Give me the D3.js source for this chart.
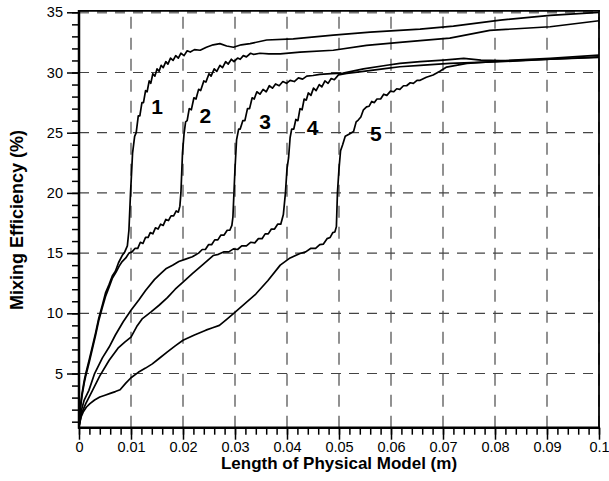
<!DOCTYPE html>
<html>
<head>
<meta charset="utf-8">
<script src="https://cdn.jsdelivr.net/npm/d3@7"></script>
<style>
  html, body { margin: 0; padding: 0; background: #fff; }
  svg { display: block; }
  text { font-family: "Liberation Sans", Arial, sans-serif; }
</style>
</head>
<body>
<svg id="chart" width="609" height="481"></svg>
<script>
// ---------- data ----------
const xTicks = [0, 0.01, 0.02, 0.03, 0.04, 0.05, 0.06, 0.07, 0.08, 0.09, 0.1];
const xTickLabels = ["0", "0.01", "0.02", "0.03", "0.04", "0.05", "0.06", "0.07", "0.08", "0.09", "0.1"];
const yTicks = [5, 10, 15, 20, 25, 30, 35];
const yTickLabels = ["5", "10", "15", "20", "25", "30", "35"];
const seriesNames = ["1", "2", "3", "4", "5"];
const labelX = [0.015, 0.0243, 0.0358, 0.0449, 0.0571];
const labelY = [27.2, 26.45, 25.9, 25.4, 24.95];

const curve1 = [
[0,0.7],[0.0003,2.4],[0.0006,3.4],[0.001,4.4],[0.0013,5.0],[0.002,6.2],[0.0026,7.3],[0.0032,8.4],[0.0038,9.6],[0.0045,10.7],[0.0051,11.7],[0.0058,12.4],[0.0064,13.1],[0.007,13.5],[0.0076,14.2],[0.0083,14.8],[0.0088,15.1],[0.0093,15.6],[0.0096,16.9],[0.0099,19.9],[0.0103,23.3],[0.0107,24.7],[0.011,25.0],[0.0114,26.4],[0.0117,26.4],[0.0121,27.5],[0.0124,27.5],[0.0128,28.5],[0.0131,28.4],[0.0135,29.3],[0.0138,29.1],[0.0142,29.9],[0.0146,29.7],[0.015,30.3],[0.0154,30.1],[0.0158,30.6],[0.0162,30.4],[0.0167,30.9],[0.0171,30.7],[0.0176,31.2],[0.0181,31.0],[0.0186,31.4],[0.0191,31.2],[0.0196,31.6],[0.0202,31.4],[0.0208,31.8],[0.0214,31.7],[0.0222,31.9],[0.0233,31.85],[0.0245,32.1],[0.0258,32.3],[0.0271,32.4],[0.0284,32.2],[0.0297,32.1],[0.0312,32.3],[0.0329,32.4],[0.0361,32.7],[0.0412,32.8],[0.0489,33.1],[0.056,33.35],[0.0656,33.6],[0.072,33.85],[0.081,34.35],[0.0906,34.75],[0.1,35.0]
];
const curve2 = [
[0,0.7],[0.0003,2.2],[0.0006,3.2],[0.001,4.2],[0.0013,4.8],[0.002,6.0],[0.0026,7.1],[0.0032,8.2],[0.0038,9.4],[0.0045,10.5],[0.0051,11.4],[0.0058,12.2],[0.0064,12.9],[0.0071,13.4],[0.0077,13.9],[0.0083,14.3],[0.009,14.6],[0.0096,15.0],[0.0102,15.1],[0.0108,15.4],[0.0113,15.4],[0.0118,15.9],[0.0123,15.8],[0.0128,16.3],[0.0133,16.3],[0.0137,16.7],[0.0142,16.6],[0.0147,17.1],[0.0152,17.0],[0.0157,17.4],[0.0162,17.3],[0.0167,17.8],[0.0172,17.7],[0.0177,18.1],[0.0182,18.1],[0.0187,18.5],[0.0191,18.4],[0.0194,18.9],[0.0196,20.0],[0.0199,23.3],[0.0202,24.9],[0.0205,25.9],[0.0208,26.0],[0.0212,27.0],[0.0216,26.9],[0.0221,27.9],[0.0225,27.8],[0.023,28.6],[0.0234,28.5],[0.024,29.3],[0.0244,29.2],[0.025,29.9],[0.0254,29.7],[0.026,30.3],[0.0265,30.1],[0.0271,30.6],[0.0276,30.4],[0.0282,30.9],[0.0287,30.7],[0.0293,31.1],[0.0298,30.9],[0.0305,31.2],[0.031,31.1],[0.0316,31.4],[0.0322,31.3],[0.033,31.6],[0.0336,31.5],[0.0348,31.6],[0.0365,31.55],[0.0387,31.55],[0.0425,31.7],[0.0489,31.85],[0.0553,32.25],[0.0617,32.5],[0.0656,32.65],[0.0713,32.85],[0.079,33.5],[0.0906,33.8],[0.1,34.3]
];
const curve3 = [
[0,0.6],[0.0005,2.0],[0.001,2.8],[0.0019,3.6],[0.003,5.0],[0.0045,6.3],[0.0058,7.2],[0.007,8.2],[0.0085,9.3],[0.01,10.25],[0.0115,11.1],[0.0128,11.9],[0.0145,12.8],[0.0157,13.3],[0.0167,13.7],[0.018,14.0],[0.0192,14.3],[0.0205,14.5],[0.0218,14.7],[0.023,15.0],[0.0237,15.3],[0.0243,15.3],[0.0249,15.7],[0.0255,15.7],[0.0261,16.1],[0.0267,16.1],[0.0273,16.5],[0.0279,16.5],[0.0285,16.9],[0.029,16.9],[0.0294,17.3],[0.0296,18.0],[0.0298,20.0],[0.03,22.0],[0.0303,24.4],[0.0307,25.3],[0.031,25.3],[0.0315,26.0],[0.0319,26.0],[0.0324,27.0],[0.0328,27.0],[0.0333,27.9],[0.0337,27.8],[0.0342,28.4],[0.0348,28.2],[0.0354,28.6],[0.036,28.4],[0.0366,28.9],[0.0372,28.7],[0.0378,29.05],[0.0385,28.9],[0.0392,29.25],[0.0399,29.1],[0.0406,29.35],[0.0414,29.25],[0.0422,29.55],[0.043,29.45],[0.0438,29.7],[0.045,29.75],[0.0463,29.85],[0.0485,29.9],[0.0508,29.95],[0.0547,30.3],[0.0592,30.6],[0.0617,30.76],[0.0656,30.9],[0.0701,31.03],[0.074,31.18],[0.0773,31.03],[0.081,30.98],[0.0906,31.18],[0.1,31.45]
];
const curve4 = [
[0,0.6],[0.0005,1.7],[0.0013,2.5],[0.0026,3.6],[0.004,4.8],[0.0058,6.1],[0.0075,7.1],[0.0088,7.6],[0.01,8.03],[0.0111,8.9],[0.0122,9.56],[0.0138,10.1],[0.0154,10.67],[0.017,11.3],[0.0185,12.0],[0.02,12.6],[0.0218,13.3],[0.0237,14.0],[0.0258,14.8],[0.0268,14.9],[0.0278,15.1],[0.0288,15.1],[0.0297,15.35],[0.0305,15.3],[0.0313,15.6],[0.0322,15.6],[0.033,15.9],[0.0338,15.85],[0.0345,16.2],[0.0352,16.2],[0.0358,16.6],[0.0364,16.6],[0.037,17.0],[0.0376,17.0],[0.0382,17.4],[0.0388,17.4],[0.0393,18.2],[0.0397,20],[0.04,22.0],[0.0403,22.9],[0.0406,24.6],[0.0409,25.3],[0.0413,25.3],[0.0417,26.1],[0.0421,26.0],[0.0425,27.0],[0.0429,26.9],[0.0433,27.8],[0.0437,27.7],[0.0441,28.3],[0.0446,28.1],[0.0451,28.7],[0.0456,28.5],[0.0462,29.0],[0.0467,28.8],[0.0473,29.3],[0.0479,29.1],[0.0485,29.5],[0.0491,29.4],[0.0499,29.8],[0.0515,29.93],[0.0547,30.1],[0.0592,30.35],[0.0617,30.48],[0.0656,30.6],[0.0713,30.76],[0.081,30.9],[0.0906,31.1],[0.1,31.3]
];
const curve5 = [
[0,0.6],[0.0004,1.4],[0.0008,1.8],[0.0014,2.2],[0.0021,2.5],[0.003,2.8],[0.004,3.05],[0.005,3.2],[0.006,3.35],[0.007,3.5],[0.0079,3.65],[0.009,4.2],[0.01,4.65],[0.0114,5.1],[0.0128,5.45],[0.0141,5.8],[0.0154,6.25],[0.017,6.8],[0.0185,7.3],[0.02,7.76],[0.0222,8.2],[0.0244,8.6],[0.0257,8.8],[0.027,9.0],[0.0284,9.5],[0.0297,9.98],[0.034,11.6],[0.0363,12.7],[0.0387,14.0],[0.0406,14.6],[0.0425,14.97],[0.0436,15.1],[0.0446,15.4],[0.0455,15.4],[0.0463,15.7],[0.047,15.75],[0.0477,16.2],[0.0483,16.3],[0.0488,16.7],[0.0492,16.75],[0.0495,17.2],[0.0497,20],[0.05,22.0],[0.0503,23.5],[0.0507,24.0],[0.0512,24.7],[0.052,24.9],[0.0528,25.1],[0.0533,25.9],[0.0537,26.05],[0.0542,26.3],[0.0547,26.9],[0.0553,27.15],[0.0558,27.2],[0.0563,27.6],[0.0568,27.5],[0.0573,27.8],[0.058,27.8],[0.0586,28.2],[0.0592,28.1],[0.0599,28.45],[0.0605,28.4],[0.0611,28.65],[0.0617,28.6],[0.0624,28.9],[0.063,28.9],[0.0637,29.15],[0.0643,29.1],[0.065,29.35],[0.0656,29.35],[0.0668,29.6],[0.0681,29.79],[0.0694,30.1],[0.0707,30.45],[0.0746,30.76],[0.081,30.95],[0.0906,31.1],[0.1,31.25]
];
const curves = [curve1, curve2, curve3, curve4, curve5];

// ---------- chart ----------
const svg = d3.select("#chart");
svg.append("rect").attr("width", 609).attr("height", 481).attr("fill", "#fff");

const x = d3.scaleLinear().domain([0, 0.1]).range([79, 599]);
const y = d3.scaleLinear().domain([0.5, 35]).range([427.7, 12.3]);

// grid
const grid = svg.append("g");
grid.selectAll(".vg").data(xTicks.slice(1)).join("line")
  .attr("x1", d => x(d)).attr("x2", d => x(d))
  .attr("y1", y(0.5)).attr("y2", y(35))
  .attr("stroke", "#6e6e6e").attr("stroke-width", 1.5)
  .attr("stroke-dasharray", "12,9");
grid.selectAll(".hg").data(yTicks).join("line")
  .attr("x1", x(0)).attr("x2", x(0.1))
  .attr("y1", d => y(d)).attr("y2", d => y(d))
  .attr("stroke", d => d === 35 ? "#777" : "#444")
  .attr("stroke-width", d => d === 35 ? 2.5 : 1.2)
  .attr("stroke-dasharray", "10,8");

// frame (top and right)
svg.append("line").attr("x1", x(0)).attr("x2", x(0.1) + 1)
  .attr("y1", y(35) - 1.5).attr("y2", y(35) - 1.5)
  .attr("stroke", "#000").attr("stroke-width", 1.8);
svg.append("line").attr("x1", x(0.1)).attr("x2", x(0.1))
  .attr("y1", y(35) - 2.4).attr("y2", y(0.5))
  .attr("stroke", "#000").attr("stroke-width", 1.8);

// curves
const line = d3.line().x(d => x(d[0])).y(d => y(d[1]));
svg.append("g").selectAll("path").data(curves).join("path")
  .attr("d", line)
  .attr("fill", "none")
  .attr("stroke", "#000")
  .attr("stroke-width", 1.7)
  .attr("stroke-linejoin", "round");

// curve labels
svg.append("g").selectAll("text").data(seriesNames).join("text")
  .attr("x", (d, i) => x(labelX[i]))
  .attr("y", (d, i) => y(labelY[i]))
  .attr("text-anchor", "middle")
  .attr("dominant-baseline", "central")
  .attr("font-size", 21)
  .attr("font-weight", "bold")
  .text(d => d);

// axes
const xMinor = d3.range(0, 51).map(i => i * 0.002);
const yMinor = d3.range(1, 36);

const xAxisMinor = svg.append("g").attr("transform", `translate(0,${y(0.5)})`)
  .call(d3.axisBottom(x).tickValues(xMinor).tickSize(7).tickFormat(""));
const xAxis = svg.append("g").attr("transform", `translate(0,${y(0.5)})`)
  .call(d3.axisBottom(x).tickValues(xTicks).tickSize(12).tickPadding(2)
    .tickFormat((d, i) => xTickLabels[i]));
const yAxisMinor = svg.append("g").attr("transform", `translate(${x(0)},0)`)
  .call(d3.axisLeft(y).tickValues(yMinor).tickSize(7).tickFormat(""));
const yAxis = svg.append("g").attr("transform", `translate(${x(0)},0)`)
  .call(d3.axisLeft(y).tickValues(yTicks).tickSize(12).tickPadding(4)
    .tickFormat((d, i) => yTickLabels[i]));

[xAxisMinor, xAxis, yAxisMinor, yAxis].forEach(g => {
  g.selectAll(".domain").remove();
  g.selectAll(".tick line").attr("stroke", "#000").attr("stroke-width", 1.5);
  g.selectAll("text").attr("font-size", 14.5).attr("fill", "#000")
    .attr("font-family", "'Liberation Sans', Arial, sans-serif");
});

// axis lines
svg.append("line").attr("x1", x(0) - 1).attr("x2", x(0.1) + 1)
  .attr("y1", y(0.5)).attr("y2", y(0.5)).attr("stroke", "#000").attr("stroke-width", 2.5);
svg.append("line").attr("x1", x(0)).attr("x2", x(0))
  .attr("y1", y(0.5) + 1).attr("y2", y(35) - 2.4).attr("stroke", "#000").attr("stroke-width", 2.5);

// axis titles
svg.append("text")
  .attr("x", (x(0) + x(0.1)) / 2).attr("y", 469)
  .attr("text-anchor", "middle").attr("font-size", 17).attr("font-weight", "bold")
  .text("Length of Physical Model (m)");
svg.append("text")
  .attr("transform", `translate(23,${(y(0.5) + y(35)) / 2}) rotate(-90)`)
  .attr("text-anchor", "middle").attr("font-size", 18).attr("font-weight", "bold")
  .text("Mixing Efficiency (%)");
</script>
</body>
</html>
